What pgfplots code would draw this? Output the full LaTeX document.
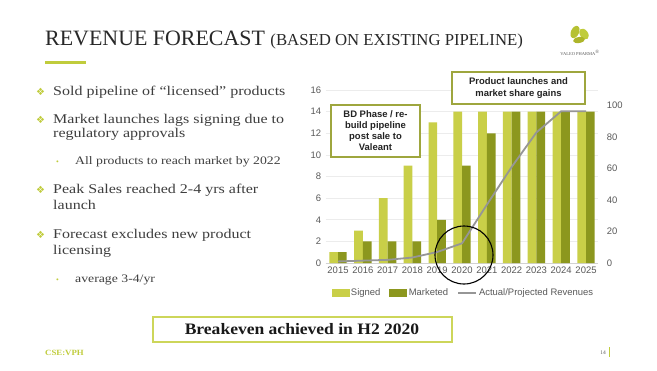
\documentclass[border=0pt]{standalone}
\usepackage{pgfplots}
\pgfplotsset{compat=1.18}
\usepackage{fontspec}
\setmainfont{Liberation Serif}
\newfontfamily\bodyfont[FakeStretch=1.2]{Liberation Serif}
\newfontfamily\boxfont[FakeStretch=1.1]{Liberation Serif}
\newfontfamily\chartfont{Liberation Sans}
\newfontfamily\symfont{DejaVu Sans}
\definecolor{signed}{RGB}{201,207,72}
\definecolor{marketed}{RGB}{140,151,30}
\definecolor{revline}{RGB}{150,150,150}
\definecolor{boxborder}{RGB}{158,166,62}
\definecolor{breakborder}{RGB}{205,214,90}
\definecolor{accent}{RGB}{192,204,60}
\definecolor{bodytext}{RGB}{62,62,62}
\definecolor{labelgray}{RGB}{89,89,89}
\definecolor{gridgray}{RGB}{236,236,236}
\definecolor{axisgray}{RGB}{210,210,210}

\pgfplotstableread{
year signed marketed
2015 1 1
2016 3 2
2017 6 2
2018 9 2
2019 13 4
2020 14 9
2021 14 12
2022 14 14
2023 14 14
2024 14 14
2025 14 14
}\unitstable

\pgfplotstableread{
year rev
2015 1
2016 1.5
2017 2
2018 3.5
2019 7
2020 12.5
2021 37
2022 61
2023 83
2024 96.5
2025 96.5
}\revtable

\begin{document}
\begin{tikzpicture}[x=1bp,y=1bp]
\fill[white] (0,0) rectangle (657,370);
\useasboundingbox (0,0) rectangle (657,370);

% Title
\node[anchor=base west, inner sep=0, text={rgb,255:red,40;green,40;blue,40}] at (45,325)
  {\fontsize{22}{26}\selectfont REVENUE FORECAST \fontsize{16.8}{20}\selectfont(BASED ON EXISTING PIPELINE)};
\fill[accent] (45,306.5) rectangle (86,309.5);

% Logo
\fill[accent!85!olive] (575,338) ellipse [x radius=4, y radius=6.5, rotate=-25];
\fill[accent] (584,336) ellipse [x radius=4, y radius=6, rotate=35];
\fill[accent!70!olive] (579,330) ellipse [x radius=6, y radius=3, rotate=10];
\node[inner sep=0, font=\fontsize{4.5}{5}\selectfont, text=labelgray] at (580,317) {VALEO PHARMA\textsuperscript{\tiny ®}};

% Bullets
\begin{scope}[every node/.style={anchor=base west, inner sep=0, text=bodytext}]
\def\mainsize{\bodyfont\fontsize{13.4}{15}\selectfont}
\def\subsize{\bodyfont\fontsize{11.5}{13}\selectfont}
\def\diam#1{\node[text=accent, font=\symfont\fontsize{10}{11}\selectfont] at (36,#1) {❖};}
\def\dot#1{\node[text=accent, font=\fontsize{8}{9}\selectfont] at (56,#1) {•};}
\diam{275}
\node[font=\mainsize] at (53,275) {Sold pipeline of “licensed” products};
\diam{247}
\node[font=\mainsize] at (53,247) {Market launches lags signing due to};
\node[font=\mainsize] at (53,233) {regulatory approvals};
\dot{206}
\node[font=\subsize] at (75,206) {All products to reach market by 2022};
\diam{177}
\node[font=\mainsize] at (53,177) {Peak Sales reached 2-4 yrs after};
\node[font=\mainsize] at (53,161) {launch};
\diam{132}
\node[font=\mainsize] at (53,132) {Forecast excludes new product};
\node[font=\mainsize] at (53,116) {licensing};
\dot{88}
\node[font=\subsize] at (75,88) {average 3-4/yr};
\end{scope}

% Units axis (left)
\begin{axis}[
  at={(325.6bp,107bp)}, anchor=south west,
  scale only axis, width=272.8bp, height=173bp,
  xmin=2014.5, xmax=2025.5, ymin=0, ymax=16,
  xtick={2015,2016,2017,2018,2019,2020,2021,2022,2023,2024,2025},
  xticklabels={2015,2016,2017,2018,2019,2020,2021,2022,2023,2024,2025},
  ytick={0,2,...,16},
  axis x line*=bottom, axis y line*=left,
  x axis line style={draw=axisgray, -}, y axis line style={draw=none},
  tick style={draw=none},
  ymajorgrids, grid style={gridgray, line width=0.6bp},
  /pgf/number format/assume math mode=true,
  tick label style={font=\chartfont\fontsize{9.5}{11}\selectfont, text=labelgray},
  yticklabel style={xshift=-1bp},
  clip=false,
]
\addplot[ybar, bar width=8.7bp, bar shift=-4.35bp, fill=signed, draw=none] table[x=year, y=signed] {\unitstable};
\addplot[ybar, bar width=8.7bp, bar shift=4.35bp, fill=marketed, draw=none] table[x=year, y=marketed] {\unitstable};
\end{axis}

% Revenue axis (right)
\begin{axis}[
  at={(325.6bp,107bp)}, anchor=south west,
  scale only axis, width=272.8bp, height=173bp,
  xmin=2014.5, xmax=2025.5, ymin=0, ymax=110,
  axis x line=none, axis y line*=right,
  y axis line style={draw=none}, tick style={draw=none},
  ytick={0,20,...,100},
  /pgf/number format/assume math mode=true,
  tick label style={font=\chartfont\fontsize{9.5}{11}\selectfont, text=labelgray},
  yticklabel style={xshift=5bp},
  legend columns=3,
  legend style={at={(0.505,-0.172)}, anchor=center, draw=none, fill=none,
    font=\chartfont\fontsize{9.5}{11}\selectfont, text=labelgray,
    /tikz/every even column/.append style={column sep=7bp}},
  clip=false,
]
\addlegendimage{legend image code/.code={\fill[signed] (0bp,-3.5bp) rectangle (17bp,3.5bp);}}
\addlegendentry{Signed}
\addlegendimage{legend image code/.code={\fill[marketed] (0bp,-3.5bp) rectangle (17bp,3.5bp);}}
\addlegendentry{Marketed}
\addplot[revline, line width=1.8bp, mark=none,
  legend image code/.code={\draw[revline, line width=1.8bp] (0bp,0bp) -- (18bp,0bp);}]
  table[x=year, y=rev] {\revtable};
\addlegendentry{Actual/Projected Revenues}
\end{axis}

% Annotation boxes
\node[draw=boxborder, line width=1.6bp, fill=white, minimum width=89bp, minimum height=52bp,
  align=center, inner sep=1bp, text={rgb,255:red,35;green,35;blue,35},
  font=\chartfont\bfseries\fontsize{9.5}{11}\selectfont] at (375.5,239)
  {BD Phase / re-\\build pipeline\\post sale to\\Valeant};
\node[draw=boxborder, line width=1.6bp, fill=white, minimum width=133bp, minimum height=32bp,
  align=center, inner sep=1bp, text={rgb,255:red,35;green,35;blue,35},
  font=\chartfont\bfseries\fontsize{9.5}{12}\selectfont] at (518.5,282)
  {Product launches and\\market share gains};

% Circle
\draw[black, line width=1.1bp] (464,115) circle [radius=29];

% Breakeven box
\draw[breakborder, line width=1.5bp, fill=white] (153,28) rectangle (452,53);
\node[inner sep=0, font=\boxfont\bfseries\fontsize{16}{18}\selectfont, text={rgb,255:red,25;green,25;blue,25}] at (302,40.5)
  {Breakeven achieved in H2 2020};

% Footer
\node[anchor=base west, inner sep=0, font=\boxfont\bfseries\fontsize{8}{9}\selectfont, text=accent] at (45,15) {CSE:VPH};
\node[anchor=base east, inner sep=0, font=\fontsize{5.5}{6}\selectfont, text=labelgray] at (606,15.5) {14};
\fill[accent] (608.5,13) rectangle (610,23);
\end{tikzpicture}
\end{document}
